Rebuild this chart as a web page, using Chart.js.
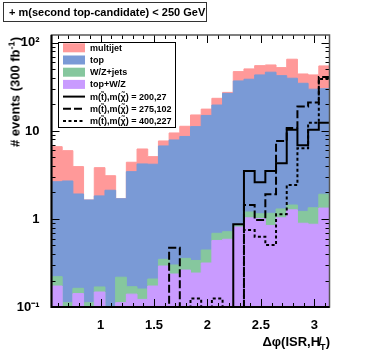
<!DOCTYPE html>
<html>
<head>
<meta charset="utf-8">
<script src="https://cdn.jsdelivr.net/npm/chart.js@4.4.1/dist/chart.umd.min.js"></script>
<style>
  html, body { margin: 0; padding: 0; background: #fff; }
  #wrap { position: relative; width: 366px; height: 353px; overflow: hidden;
          font-family: "Liberation Sans", Arial, Helvetica, sans-serif; font-weight: bold; color: #000; }
  #plot { position: absolute; left: 0; top: 0; }
  #cut { position: absolute; left: 3px; top: 2px; width: 204px; height: 20px; box-sizing: border-box;
         border: 1px solid #333; font-size: 11px; line-height: 18px; padding-left: 5px; white-space: nowrap; }
  #ytitle { position: absolute; left: 15px; top: 37px; font-size: 13px; white-space: nowrap; line-height: 1;
            transform-origin: 0 0; transform: rotate(-90deg) translate(-100%, -50%); }
  #xtitle { position: absolute; right: 36px; top: 335px; font-size: 13px; white-space: nowrap; line-height: 1; }
  sup, sub { font-size: 70%; line-height: 0; }
</style>
</head>
<body>
<div id="wrap">
  <canvas id="plot" width="366" height="353"></canvas>
  <div id="cut">+ m(second top-candidate) &lt; 250 GeV</div>
  <div id="ytitle"># events (300 fb<sup>-1</sup>)</div>
  <div id="xtitle">Δφ(ISR,H̸<sub>T</sub>)</div>
</div>
<script>
// 26 bins of width 0.1 ending at pi
const nBins = 26;
const binWidth = 0.1;
const xHigh = Math.PI;
const xLow = xHigh - nBins * binWidth;
const binEdges = Array.from({ length: nBins + 1 }, (_, i) => xLow + i * binWidth);

// backgrounds, events per bin (stacked bottom to top: topWZ, wzJets, topQuark, multijet)
const topWZ    = [0.173, 0, 0.142, 0, 0.148, 0.05, 0.112, 0.140, 0.122, 0.173, 0.292, 0.237, 0.263,
                  0.243, 0.316, 0.570, 0.588, 0.81, 1.03, 1.01, 0.844, 1.03, 1.27, 0.894, 0.871, 1.33];
const wzJets   = [0.048, 0.112, 0.021, 0.112, 0.021, 0.02, 0.106, 0.030, 0.038, 0.035, 0.056, 0.063, 0.094,
                  0.095, 0.128, 0.118, 0.129, 0.04, 0.17, 0.136, 0.316, 0.27, 0.17, 0.326, 0.469, 0.58];
const topQuark = [2.43, 2.59, 1.76, 1.53, 1.66, 2.05, 1.48, 3.28, 4.06, 3.98, 6.41, 7.6, 8.30,
                  10.86, 14.56, 19.0, 26.0, 36.15, 37.5, 42.15, 45.34, 41.2, 38.26, 33.58, 28.46, 28.29];
const multijet = [3.98, 3.27, 2.01, 0, 2.0, 0.98, 0, 0.96, 2.02, 0.92, 0.94, 1.59, 2.64,
                  4.0, 2.7, 3.8, 0.7, 10.2, 12.0, 11.9, 9.7, 9.9, 25.6, 9.6, 13.5, 24.6];

// signal points
const sig200 = [0, 0, 0, 0, 0, 0, 0, 0, 0, 0, 0, 0, 0, 0, 0, 0, 0,
                0.87, 3.51, 2.61, 3.51, 4.29, 10.3, 6.9, 10.3, 12.4];
const sig275 = [0, 0, 0, 0, 0, 0, 0, 0, 0, 0, 0, 0.47, 0, 0, 0, 0, 0, 0,
                1.44, 0.975, 1.91, 7.7, 10.8, 18.9, 21.0, 41];
const sig400 = [0, 0, 0, 0, 0, 0, 0, 0, 0, 0, 0, 0, 0, 0.125, 0, 0.125, 0, 0,
                0.75, 0.63, 0.507, 1.13, 2.43, 6.35, 12.4, 39];

const xTickValues = [1, 1.5, 2, 2.5, 3];
const xTickLabels = ['1', '1.5', '2', '2.5', '3'];
const yTickValues = [0.1, 1, 10, 100];
const yTickLabels = ['10\u207B\u00B9', '1', '10', '10\u00B2'];
const yMin = 0.1;
const yMax = 123;

const legendLabels = ['multijet', 'top', 'W/Z+jets', 'top+W/Z',
  'm(t\u0303),m(\u03C7\u0303) = 200,27', 'm(t\u0303),m(\u03C7\u0303) = 275,102', 'm(t\u0303),m(\u03C7\u0303) = 400,227'];

const colors = { multijet: '#ff9999', top: '#7a9ad6', wz: '#86c79e', topwz: '#c99bff' };
const dashes = { solid: [], long: [8, 3], short: [3, 2.5] };

// zero bins go below the axis
const floor = 1e-3;
function steps(vals) {
  const pts = vals.map((v, i) => ({ x: binEdges[i], y: v > 0 ? v : floor }));
  pts.push({ x: binEdges[nBins], y: pts[nBins - 1].y });
  return pts;
}
function addUp(...series) {
  return series[0].map((_, i) => series.reduce((s, arr) => s + arr[i], 0));
}

const stackTopWZ = topWZ;
const stackWZ = addUp(topWZ, wzJets);
const stackTop = addUp(topWZ, wzJets, topQuark);
const stackAll = addUp(topWZ, wzJets, topQuark, multijet);

function sigSet(vals, dash) {
  return { data: steps(vals), stepped: true, fill: false, borderColor: '#000', borderWidth: 2,
           borderDash: dash, pointRadius: 0, clip: 0 };
}
function bkgSet(vals, color) {
  return { data: steps(vals), stepped: true, fill: 'start', backgroundColor: color, borderColor: color,
           borderWidth: 1, pointRadius: 0, clip: 0 };
}

const frameTicks = {
  id: 'frameTicks',
  afterDatasetsDraw(chart) {
    const { ctx, chartArea: a, scales: { x, y } } = chart;
    ctx.save();
    ctx.lineWidth = 1;
    ctx.strokeStyle = '#000';
    ctx.beginPath();
    for (let k = 6; k <= 31; k++) {
      const px = Math.round(x.getPixelForValue(k / 10)) + 0.5;
      const len = k % 5 === 0 ? 8 : 4;
      ctx.moveTo(px, a.bottom); ctx.lineTo(px, a.bottom - len);
      ctx.moveTo(px, a.top); ctx.lineTo(px, a.top + len);
    }
    for (let d = -1; d <= 2; d++) {
      for (let m = 1; m <= 9; m++) {
        const v = m * Math.pow(10, d);
        if (v < yMin * 0.999 || v > yMax) continue;
        const py = Math.round(y.getPixelForValue(v)) + 0.5;
        const len = m === 1 ? 8 : 4;
        ctx.moveTo(a.left, py); ctx.lineTo(a.left + len, py);
        ctx.moveTo(a.right, py); ctx.lineTo(a.right - len, py);
      }
    }
    ctx.stroke();
    ctx.strokeStyle = '#555';
    ctx.lineWidth = 1.5;
    ctx.strokeRect(a.left, a.top, a.right - a.left, a.bottom - a.top);
    ctx.strokeStyle = '#000';
    ctx.lineWidth = 2;
    ctx.beginPath();
    ctx.moveTo(a.left, a.top); ctx.lineTo(a.left, a.bottom); ctx.lineTo(a.right, a.bottom);
    ctx.stroke();
    ctx.restore();
  }
};

const boxLegend = {
  id: 'boxLegend',
  afterDraw(chart) {
    const ctx = chart.ctx;
    const fills = [colors.multijet, colors.top, colors.wz, colors.topwz];
    const lines = [dashes.solid, dashes.long, dashes.short];
    ctx.save();
    ctx.fillStyle = '#fff';
    ctx.fillRect(58, 42, 117, 85);
    ctx.strokeStyle = '#000';
    ctx.lineWidth = 1;
    ctx.strokeRect(58.5, 42.5, 117, 85);
    ctx.font = 'bold 9px "Liberation Sans", Arial, sans-serif';
    ctx.textBaseline = 'middle';
    legendLabels.forEach((label, i) => {
      const cy = 47.8 + i * 12.2;
      if (i < 4) {
        ctx.fillStyle = fills[i];
        ctx.fillRect(63, cy - 4.5, 22, 9);
      } else {
        ctx.strokeStyle = '#000';
        ctx.lineWidth = 2;
        ctx.setLineDash(lines[i - 4]);
        ctx.beginPath();
        ctx.moveTo(63, cy); ctx.lineTo(85, cy);
        ctx.stroke();
        ctx.setLineDash([]);
      }
      ctx.fillStyle = '#000';
      ctx.fillText(label, 90, cy + 0.5);
    });
    ctx.restore();
  }
};

const tickFont = { family: '"Liberation Sans", Arial, sans-serif', size: 13, weight: 'bold' };

new Chart(document.getElementById('plot'), {
  type: 'line',
  data: {
    datasets: [
      sigSet(sig200, dashes.solid),
      sigSet(sig275, dashes.long),
      sigSet(sig400, dashes.short),
      bkgSet(stackTopWZ, colors.topwz),
      bkgSet(stackWZ, colors.wz),
      bkgSet(stackTop, colors.top),
      bkgSet(stackAll, colors.multijet)
    ]
  },
  options: {
    responsive: false,
    animation: false,
    devicePixelRatio: 1,
    layout: { padding: { left: 0, top: 35, right: 366 - 329.5, bottom: 0 } },
    plugins: { legend: { display: false }, tooltip: { enabled: false } },
    scales: {
      x: {
        type: 'linear', min: xLow, max: xHigh,
        grid: { display: false }, border: { display: false },
        afterFit: s => { s.height = 46; },
        afterBuildTicks: s => { s.ticks = xTickValues.map(v => ({ value: v })); },
        ticks: { font: tickFont, color: '#000', padding: 3, maxRotation: 0,
                 callback: v => xTickLabels[xTickValues.indexOf(v)] }
      },
      y: {
        type: 'logarithmic', min: yMin, max: yMax,
        grid: { display: false }, border: { display: false },
        afterFit: s => { s.width = 51.5; },
        afterBuildTicks: s => { s.ticks = yTickValues.map(v => ({ value: v })); },
        ticks: { font: tickFont, color: '#000', padding: 4,
                 callback: v => yTickLabels[yTickValues.indexOf(v)] }
      }
    }
  },
  plugins: [frameTicks, boxLegend]
});
</script>
</body>
</html>
